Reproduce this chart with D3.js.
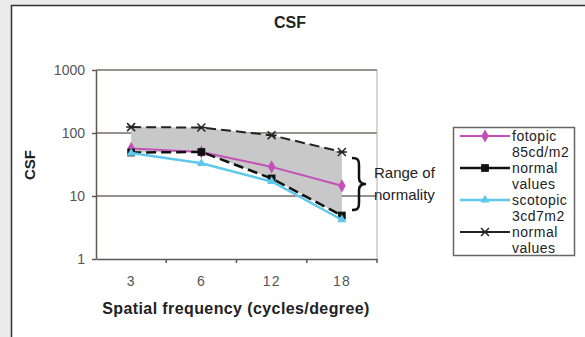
<!DOCTYPE html>
<html>
<head>
<meta charset="utf-8">
<script src="https://cdn.jsdelivr.net/npm/d3@7"></script>
<style>
  body{margin:0;background:#ebebeb}
  svg{display:block}
  text{font-family:"Liberation Sans",Arial,sans-serif}
</style>
</head>
<body>
<svg id="chart" width="585" height="337"></svg>
<script>
'use strict'

// values
const frequencies = ["3","6","12","18"]
const fotopic = [57,50,29,14.5]
const normalLow = [49,50,19,4.9]
const scotopic = [48,33,17,4.2]
const normalHigh = [124,122,92,50]
const yTicks = [1,10,100,1000]
const legendLabels = [["fotopic","85cd/m2"],["normal","values"],["scotopic","3cd7m2"],["normal","values"]]

const svg = d3.select("#chart")

// white panel with its frame
svg.append("rect").attr("x",11).attr("y",5).attr("width",600).attr("height",340).attr("fill","#fff")
svg.append("path").attr("d","M11.5,340V5.5H590").attr("fill","none").attr("stroke","#333").attr("stroke-width",1.5)

const x = d3.scaleBand().domain(frequencies).range([96,377])
const y = d3.scaleLog().domain([1,1000]).range([259,70])
const cx = d => x(d) + x.bandwidth()/2

// grid
svg.append("g").selectAll("line").data(yTicks.slice(1)).join("line")
  .attr("x1",96).attr("x2",377)
  .attr("y1",d=>y(d)).attr("y2",d=>y(d))
  .attr("stroke","#766b66").attr("stroke-width",1.5)
svg.append("line").attr("x1",377).attr("x2",377).attr("y1",70).attr("y2",259)
  .attr("stroke","#b0aaa8").attr("stroke-width",1)

// y axis
const yAxis = svg.append("g").attr("transform","translate(96,0)")
  .call(d3.axisLeft(y).tickValues(yTicks).tickFormat(d3.format("d")).tickSize(4).tickSizeOuter(0).tickPadding(7))
yAxis.select(".domain").attr("stroke","#5f5752").attr("stroke-width",1.5)
yAxis.selectAll(".tick line").attr("stroke","#5f5752").attr("stroke-width",1.5)
yAxis.selectAll(".tick text").attr("font-size",14).attr("fill","#555").attr("font-family","Liberation Sans, Arial, sans-serif")

// x axis, ticks sit between the categories
const xAxis = svg.append("g").attr("transform","translate(0,259)")
  .call(d3.axisBottom(x).tickSize(0).tickPadding(17))
xAxis.select(".domain").attr("stroke","#5f5752").attr("stroke-width",1.5)
xAxis.selectAll(".tick text").attr("font-size",14).attr("fill","#555").attr("letter-spacing",1)
  .attr("font-family","Liberation Sans, Arial, sans-serif")
xAxis.selectAll("line.sep").data(frequencies.slice(1).concat("end")).join("line").attr("class","sep")
  .attr("x1",d=>d==="end"?377:x(d)).attr("x2",d=>d==="end"?377:x(d))
  .attr("y1",0).attr("y2",4).attr("stroke","#5f5752").attr("stroke-width",1.5)

// range of normality band
const area = d3.area()
  .x((d,i)=>cx(frequencies[i]))
  .y0((d,i)=>y(normalLow[i]))
  .y1((d,i)=>y(normalHigh[i]))
svg.append("path").datum(frequencies).attr("d",area).attr("fill","#c8c8c8")

const starPath = s => `M${-s},${-s}L${s},${s}M${-s},${s}L${s},${-s}M${-s-1},0H${s+1}`

const series = [
  {values:fotopic, color:"#c54fb9", width:2, dash:null, symbol:d3.symbolDiamond, size:50},
  {values:normalLow, color:"#111", width:2.5, dash:"10,5", symbol:d3.symbolSquare, size:60},
  {values:scotopic, color:"#5ec8ea", width:2.5, dash:null, symbol:d3.symbolTriangle, size:35},
  {values:normalHigh, color:"#222", width:2, dash:"10,5", symbol:"star", size:4}
]

const line = d3.line().x((d,i)=>cx(frequencies[i])).y(d=>y(d))

function drawMarker(g,s){
  if (s.symbol==="star") {
    g.append("path").attr("d",starPath(s.size)).attr("stroke",s.color).attr("stroke-width",1.5).attr("fill","none")
  } else {
    g.append("path").attr("d",d3.symbol(s.symbol,s.size)()).attr("fill",s.color)
  }
}

series.forEach(s=>{
  svg.append("path").datum(s.values).attr("d",line)
    .attr("fill","none").attr("stroke",s.color).attr("stroke-width",s.width)
    .attr("stroke-dasharray",s.dash)
  s.values.forEach((v,i)=>{
    const g = svg.append("g").attr("transform",`translate(${cx(frequencies[i])},${y(v)})`)
    drawMarker(g,s)
  })
})

// brace and its note
svg.append("path")
  .attr("d","M352,158C358,158 359,160 359,165L359,178C359,182 361,184 366,184C361,184 359,186 359,190L359,203C359,208 358,210 352,210")
  .attr("fill","none").attr("stroke","#111").attr("stroke-width",2.5)
svg.append("g").selectAll("text").data(["Range of","normality"]).join("text")
  .attr("x",374).attr("y",(d,i)=>173+i*22).attr("dy","0.35em")
  .attr("font-size",15).attr("fill","#222").text(d=>d)

// titles
svg.append("text").attr("x",290).attr("y",22).attr("dy","0.35em").attr("text-anchor","middle")
  .attr("font-size",16).attr("font-weight","bold").attr("fill","#222").text("CSF")
svg.append("text").attr("transform","translate(30,165) rotate(-90)").attr("dy","0.35em").attr("text-anchor","middle")
  .attr("font-size",15).attr("font-weight","bold").attr("fill","#222").text("CSF")
svg.append("text").attr("x",236).attr("y",308).attr("dy","0.35em").attr("text-anchor","middle")
  .attr("font-size",16).attr("font-weight","bold").attr("letter-spacing",0.4).attr("fill","#222")
  .text("Spatial frequency (cycles/degree)")

// legend
const legend = svg.append("g")
legend.append("rect").attr("x",453.5).attr("y",127.5).attr("width",121).attr("height",128)
  .attr("fill","#fff").attr("stroke","#666").attr("stroke-width",1.5)
series.forEach((s,i)=>{
  const ly = 136 + i*32
  legend.append("line").attr("x1",460).attr("x2",510).attr("y1",ly).attr("y2",ly)
    .attr("stroke",s.color).attr("stroke-width",s.width)
  drawMarker(legend.append("g").attr("transform",`translate(485,${ly})`),s)
  legendLabels[i].forEach((t,j)=>{
    legend.append("text").attr("x",512).attr("y",ly+j*16).attr("dy","0.35em")
      .attr("font-size",14).attr("letter-spacing",0.5).attr("fill","#222").text(t)
  })
})
</script>
</body>
</html>
